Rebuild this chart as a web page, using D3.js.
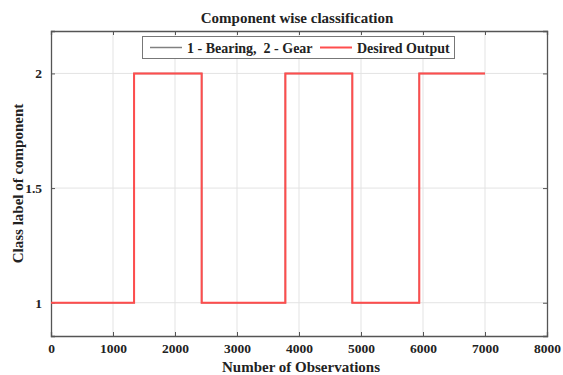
<!DOCTYPE html>
<html>
<head>
<meta charset="utf-8">
<script src="https://cdn.jsdelivr.net/npm/d3@7"></script>
<style>
  html, body { margin: 0; padding: 0; background: #fff; }
  svg { display: block; }
  text { font-family: "Liberation Serif", "Times New Roman", serif; font-weight: bold; fill: #222; white-space: pre; }
</style>
</head>
<body>
<svg id="chart" width="563" height="375"></svg>
<script>
// Step-wise class labels: each segment holds its label until the next breakpoint
const breakpoints = [0, 1340, 2430, 3780, 4860, 5940, 7000];
const predictedLabels = [1, 2, 1, 2, 1, 2];
const desiredLabels = [1, 2, 1, 2, 1, 2];
const xTicks = [0, 1000, 2000, 3000, 4000, 5000, 6000, 7000, 8000];
const yTicks = [1, 1.5, 2];
const seriesNames = ["1 - Bearing,  2 - Gear", "Desired Output"];

const svg = d3.select("#chart");
const margin = { left: 51, right: 16, top: 31, bottom: 39 };
const W = 563, H = 375;
const x = d3.scaleLinear().domain([0, 8000]).range([margin.left, W - margin.right]);
const y = d3.scaleLinear().domain([0.855, 2.185]).range([H - margin.bottom, margin.top]);

// Expand segments into step points
function stepPoints(labels) {
  const pts = [];
  labels.forEach((v, i) => {
    pts.push([breakpoints[i], v]);
    pts.push([breakpoints[i + 1], v]);
  });
  return pts;
}

// Grid
const grid = svg.append("g").attr("stroke", "#e3e3e3").attr("stroke-width", 1);
xTicks.slice(1, -1).forEach(t => grid.append("line")
  .attr("x1", x(t)).attr("x2", x(t)).attr("y1", y.range()[1]).attr("y2", y.range()[0]));
yTicks.forEach(t => grid.append("line")
  .attr("x1", x.range()[0]).attr("x2", x.range()[1]).attr("y1", y(t)).attr("y2", y(t)));

// Axes (box with inward ticks on all sides)
const axisColor = "#555";
const bottomAxis = d3.axisBottom(x).tickValues(xTicks).tickSize(-4).tickPadding(7).tickFormat(d3.format("d"));
const topAxis = d3.axisTop(x).tickValues(xTicks).tickSize(-4).tickFormat("");
const leftAxis = d3.axisLeft(y).tickValues(yTicks).tickSize(-4).tickPadding(9).tickFormat(d => d3.format("")(d));
const rightAxis = d3.axisRight(y).tickValues(yTicks).tickSize(-4).tickFormat("");

function styleAxis(g) {
  g.select(".domain").attr("stroke", axisColor).attr("stroke-width", 1.3);
  g.selectAll(".tick line").attr("stroke", axisColor);
  g.selectAll(".tick text").attr("font-size", 13.5).attr("font-family", "Liberation Serif, serif")
    .attr("font-weight", "bold").attr("fill", "#222");
}
svg.append("g").attr("transform", `translate(0,${y.range()[0]})`).call(bottomAxis).call(styleAxis);
svg.append("g").attr("transform", `translate(0,${y.range()[1]})`).call(topAxis).call(styleAxis);
svg.append("g").attr("transform", `translate(${x.range()[0]},0)`).call(leftAxis).call(styleAxis);
svg.append("g").attr("transform", `translate(${x.range()[1]},0)`).call(rightAxis).call(styleAxis);

// Series
const line = d3.line().x(d => x(d[0])).y(d => y(d[1]));
svg.append("path").datum(stepPoints(predictedLabels))
  .attr("fill", "none").attr("stroke", "#808080").attr("stroke-width", 1.5).attr("d", line);
svg.append("path").datum(stepPoints(desiredLabels))
  .attr("fill", "none").attr("stroke", "#ff4d4d").attr("stroke-width", 2).attr("d", line);

// Legend
const lg = svg.append("g");
lg.append("rect").attr("x", 142.5).attr("y", 36.5).attr("width", 312).attr("height", 22)
  .attr("fill", "#fff").attr("stroke", "#777").attr("stroke-width", 1);
lg.append("line").attr("x1", 150).attr("x2", 182).attr("y1", 47.5).attr("y2", 47.5)
  .attr("stroke", "#808080").attr("stroke-width", 1.5);
lg.append("text").attr("x", 187).attr("y", 52.5).attr("font-size", 14)
  .attr("xml:space", "preserve").text(seriesNames[0]);
lg.append("line").attr("x1", 320).attr("x2", 352).attr("y1", 47.5).attr("y2", 47.5)
  .attr("stroke", "#ff4d4d").attr("stroke-width", 2);
lg.append("text").attr("x", 357).attr("y", 52.5).attr("font-size", 14).text(seriesNames[1]);

// Titles
svg.append("text").attr("x", (x.range()[0] + x.range()[1]) / 2 - 2).attr("y", 23)
  .attr("text-anchor", "middle").attr("font-size", 15).text("Component wise classification");
svg.append("text").attr("x", (x.range()[0] + x.range()[1]) / 2 + 2).attr("y", 372)
  .attr("text-anchor", "middle").attr("font-size", 15).text("Number of Observations");
svg.append("text").attr("transform", `translate(23,${(y.range()[0] + y.range()[1]) / 2}) rotate(-90)`)
  .attr("text-anchor", "middle").attr("font-size", 15).text("Class label of component");
</script>
</body>
</html>
